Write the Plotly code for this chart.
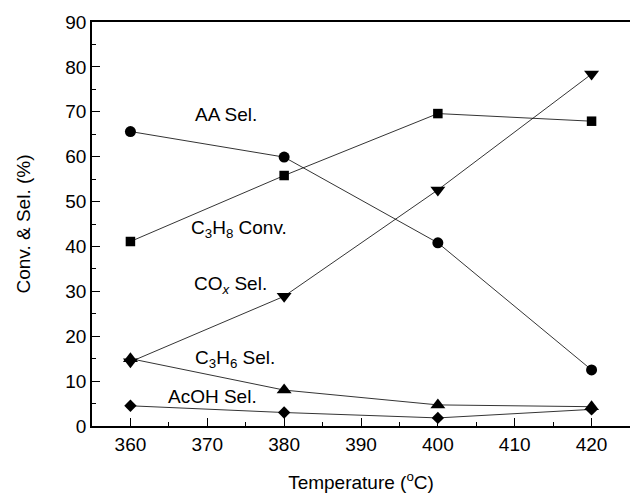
import plotly.graph_objects as go

temps = [360, 380, 400, 420]
aa_sel = [65.6, 59.9, 40.8, 12.5]
c3h8_conv = [41.1, 55.8, 69.6, 67.9]
cox_sel = [14.3, 28.9, 52.6, 78.4]
c3h6_sel = [15.0, 8.0, 4.7, 4.3]
acoh_sel = [4.5, 3.0, 1.8, 3.7]

series = [
    (aa_sel, "circle", 11),
    (c3h8_conv, "square", 9.5),
    (cox_sel, "triangle-down", 13),
    (c3h6_sel, "triangle-up", 13),
    (acoh_sel, "diamond", 9.5),
]

labels = [
    ("AA Sel.", 372.4, 69.3),
    ("C<sub>3</sub>H<sub>8</sub> Conv.", 374.1, 43.9),
    ("CO<sub><i>x</i></sub> Sel.", 373.0, 31.4),
    ("C<sub>3</sub>H<sub>6</sub> Sel.", 373.6, 15.0),
    ("AcOH Sel.", 370.7, 6.5),
]

font = "Liberation Sans"
fig = go.Figure()
for vals, sym, sz in series:
    fig.add_trace(go.Scatter(
        x=temps, y=vals, mode="lines+markers",
        line=dict(color="black", width=0.8),
        marker=dict(symbol=sym, size=sz, color="black"),
        showlegend=False,
    ))

for txt, x, y in labels:
    fig.add_annotation(x=x, y=y, text=txt, showarrow=False,
                       font=dict(family=font, size=19, color="black"))

fig.update_layout(
    width=630, height=496,
    margin=dict(l=92, r=0, t=22, b=70),
    paper_bgcolor="white", plot_bgcolor="white",
    font=dict(family=font, size=19, color="black"),
)
fig.update_xaxes(
    range=[355, 425], dtick=10, tick0=360,
    showline=True, linecolor="black", linewidth=1.8, mirror=True,
    ticks="inside", ticklen=8, tickwidth=1, tickcolor="black",
    minor=dict(ticks="inside", ticklen=4, dtick=5, tickcolor="black", tickwidth=1),
    showgrid=False, zeroline=False,
    tickfont=dict(family=font, size=19, color="black"),
    title=dict(text="Temperature (<sup>o</sup>C)", standoff=22,
               font=dict(family=font, size=19, color="black")),
)
fig.update_yaxes(
    range=[0, 90], dtick=10,
    showline=True, linecolor="black", linewidth=1.8,
    ticks="inside", ticklen=8, tickwidth=1, tickcolor="black",
    minor=dict(ticks="inside", ticklen=4, dtick=5, tickcolor="black", tickwidth=1),
    showgrid=False, zeroline=False,
    tickfont=dict(family=font, size=19, color="black"),
    title=dict(text="Conv. & Sel. (%)", standoff=30,
               font=dict(family=font, size=19, color="black")),
)
fig.write_html("out.html")
